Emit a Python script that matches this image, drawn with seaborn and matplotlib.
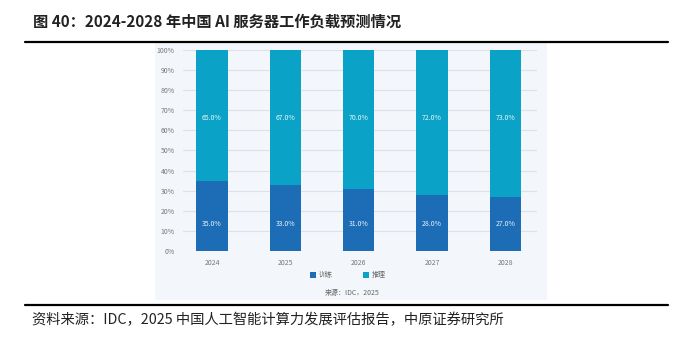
import matplotlib
matplotlib.use("Agg")
import matplotlib.pyplot as plt
import seaborn as sns
import pandas as pd
from matplotlib.patches import Rectangle
from matplotlib.lines import Line2D

years = ["2024", "2025", "2026", "2027", "2028"]
training = [35.0, 33.0, 31.0, 28.0, 27.0]
inference = [65.0, 67.0, 70.0, 72.0, 73.0]
series_names = ["训练", "推理"]
yticks = [0, 10, 20, 30, 40, 50, 60, 70, 80, 90, 100]

sns.set_theme(style="white")
plt.rcParams['font.family'] = ['Noto Sans CJK SC', 'DejaVu Sans']

c_train = "#1d6db6"
c_infer = "#0aa2c6"

W, H = 700, 337
fig = plt.figure(figsize=(7, 3.37), dpi=100)
fig.patch.set_facecolor("white")

# panel background
fig.add_artist(Rectangle((155 / W, 1 - 300 / H), 392 / W, 258 / H,
                         transform=fig.transFigure, facecolor="#f3f6fa",
                         edgecolor="none", zorder=0))

ax = fig.add_axes([183 / W, 1 - 251 / H, 354 / W, 201 / H])
ax.set_facecolor("none")

df = pd.DataFrame({"year": years, "train": training, "infer": inference})
df["total"] = df["train"] + df["infer"]

sns.barplot(data=df, x="year", y="total", color=c_infer, width=0.43,
            saturation=1, ax=ax, zorder=3, linewidth=0, edgecolor="none")
sns.barplot(data=df, x="year", y="train", color=c_train, width=0.43,
            saturation=1, ax=ax, zorder=4, linewidth=0, edgecolor="none")
for p in ax.patches:
    p.set_clip_on(True)

ax.set_xlim(-0.395, 4.43)
ax.set_ylim(0, 100)
ax.set_yticks(yticks)
ax.set_yticklabels([f"{v}%" for v in yticks], fontsize=5, color="#777777")
ax.set_xticks(range(len(years)))
ax.set_xticklabels(years, fontsize=5, color="#777777")
ax.tick_params(axis="both", length=0, pad=6)
ax.set_xlabel("")
ax.set_ylabel("")
ax.yaxis.grid(True, color="#dde2e8", linewidth=0.8, zorder=0)
ax.set_axisbelow(True)
for s in ax.spines.values():
    s.set_visible(False)

for i in range(len(years)):
    ax.text(i, 66.3, f"{inference[i]:.1f}%", ha="center", va="center",
            fontsize=5, color="#e8f6fb", zorder=5)
    ax.text(i, 13.6, f"{training[i]:.1f}%", ha="center", va="center",
            fontsize=5, color="#e8f0fa", zorder=5)

# legend
for xp, name, col in [(313, series_names[0], c_train), (366, series_names[1], c_infer)]:
    fig.add_artist(Rectangle((xp / W - 3 / W, 1 - 278 / H), 6 / W, 6 / H,
                             transform=fig.transFigure, facecolor=col,
                             edgecolor="none"))
    fig.text((xp + 6) / W, 1 - 275 / H, name, fontsize=5, color="#666666",
             va="center", ha="left")

fig.text(325 / W, 1 - 293 / H, "来源：IDC，2025", fontsize=5, color="#666666",
         va="center", ha="left")

# title and rules
fig.text(33 / W, 1 - 22 / H, "图 40：2024-2028 年中国 AI 服务器工作负载预测情况",
         fontsize=11, fontweight="bold", color="#222222", va="center", ha="left")
fig.add_artist(Line2D([25 / W, 668 / W], [1 - 42 / H, 1 - 42 / H],
                      transform=fig.transFigure, color="black", linewidth=1.6))
fig.add_artist(Line2D([25 / W, 668 / W], [1 - 305 / H, 1 - 305 / H],
                      transform=fig.transFigure, color="black", linewidth=1.6))
fig.text(32 / W, 1 - 320 / H, "资料来源：IDC，2025 中国人工智能计算力发展评估报告，中原证券研究所",
         fontsize=10.3, color="#222222", va="center", ha="left")

fig.savefig("out.png", dpi=100, facecolor="white")
